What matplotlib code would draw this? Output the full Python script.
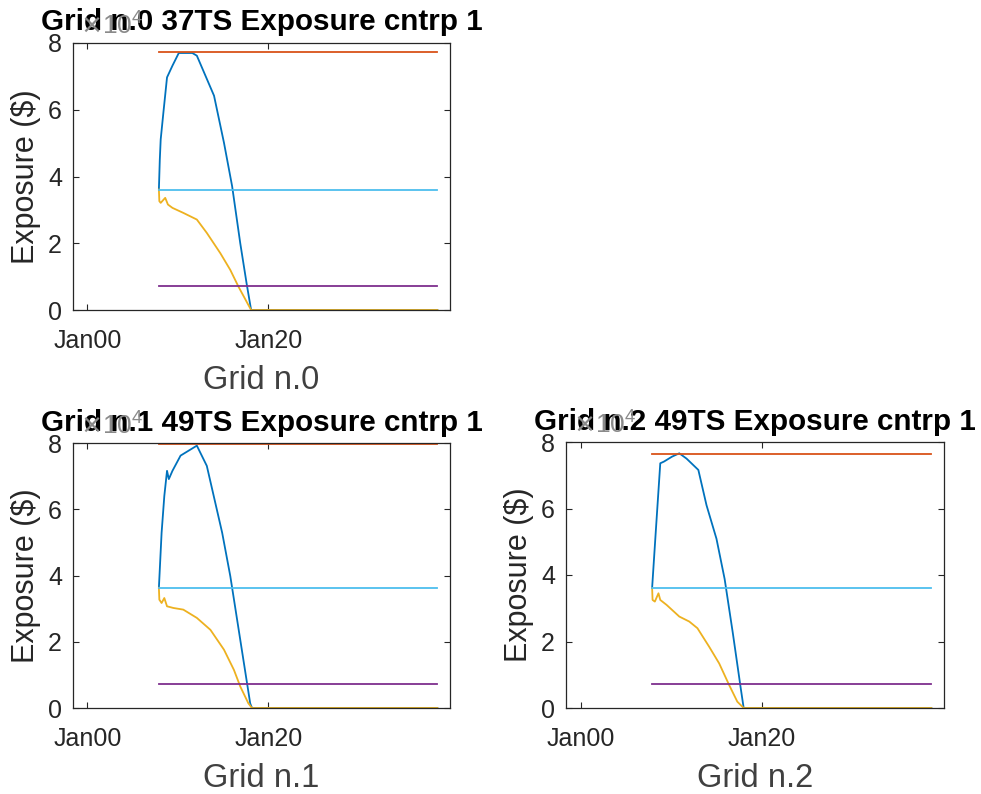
import matplotlib
matplotlib.use('Agg')
import matplotlib.pyplot as plt

plt.rcParams['font.family'] = ['Liberation Sans', 'DejaVu Sans']

# ---- data (x in decimal years, y in units of 1e4 $) ----
titles = ['Grid n.0 37TS Exposure cntrp 1',
          'Grid n.1 49TS Exposure cntrp 1',
          'Grid n.2 49TS Exposure cntrp 1']
xlabels = ['Grid n.0', 'Grid n.1', 'Grid n.2']
tick_years = [2000, 2020]
tick_labels = ['Jan00', 'Jan20']
x_start = 2007.9
x_end = 2038.7

# grid 0
g0_exp_x = [2007.9, 2008.0, 2008.1, 2008.4, 2008.8, 2009.4, 2010.1, 2011.6, 2012.1, 2014.0,
            2015.1, 2016.0, 2016.9, 2017.6, 2018.1, 2038.7]
g0_exp_y = [3.61, 4.50, 5.11, 5.92, 6.97, 7.32, 7.70, 7.70, 7.62, 6.42,
            5.01, 3.71, 2.00, 0.80, 0.0, 0.0]
g0_low_x = [2007.9, 2007.95, 2008.1, 2008.6, 2008.9, 2009.4, 2010.6, 2012.1, 2013.2,
            2014.7, 2015.8, 2016.7, 2017.5, 2018.1, 2038.7]
g0_low_y = [3.61, 3.26, 3.21, 3.36, 3.16, 3.06, 2.91, 2.71, 2.31,
            1.70, 1.20, 0.70, 0.30, 0.0, 0.0]
g0_max = 7.72
g0_mean = 3.61
g0_min = 0.72

# grid 1
g1_exp_x = [2007.9, 2008.2, 2008.5, 2008.8, 2009.0, 2009.4, 2010.3, 2011.2, 2012.1,
            2013.2, 2014.9, 2015.8, 2016.9, 2018.0, 2018.2, 2038.7]
g1_exp_y = [3.63, 5.29, 6.40, 7.16, 6.91, 7.16, 7.62, 7.77, 7.92,
            7.31, 5.29, 3.98, 2.06, 0.14, 0.0, 0.0]
g1_low_x = [2007.9, 2007.95, 2008.2, 2008.5, 2008.8, 2009.5, 2010.6, 2012.1, 2013.6,
            2015.1, 2016.2, 2016.9, 2017.8, 2018.2, 2038.7]
g1_low_y = [3.63, 3.27, 3.17, 3.32, 3.07, 3.02, 2.97, 2.72, 2.36,
            1.76, 1.15, 0.65, 0.14, 0.0, 0.0]
g1_max = 7.96
g1_mean = 3.63
g1_min = 0.72

# grid 2
g2_exp_x = [2007.9, 2008.3, 2008.8, 2009.2, 2010.1, 2010.9, 2011.7, 2013.0, 2013.9,
            2015.0, 2015.9, 2016.8, 2017.7, 2018.0, 2038.7]
g2_exp_y = [3.61, 5.29, 7.36, 7.41, 7.56, 7.66, 7.50, 7.16, 6.10,
            5.09, 3.88, 2.26, 0.55, 0.0, 0.0]
g2_low_x = [2007.9, 2007.95, 2008.2, 2008.6, 2008.8, 2009.5, 2010.9, 2012.0, 2012.9,
            2014.2, 2015.3, 2016.4, 2017.3, 2018.0, 2038.7]
g2_low_y = [3.61, 3.25, 3.20, 3.45, 3.25, 3.10, 2.75, 2.60, 2.40,
            1.84, 1.34, 0.69, 0.19, 0.0, 0.0]
g2_max = 7.65
g2_mean = 3.61
g2_min = 0.71

exp_x = [g0_exp_x, g1_exp_x, g2_exp_x]
exp_y = [g0_exp_y, g1_exp_y, g2_exp_y]
low_x = [g0_low_x, g1_low_x, g2_low_x]
low_y = [g0_low_y, g1_low_y, g2_low_y]
max_lvl = [g0_max, g1_max, g2_max]
mean_lvl = [g0_mean, g1_mean, g2_mean]
min_lvl = [g0_min, g1_min, g2_min]

# matlab default colours
c_blue = '#0072BD'
c_orange = '#D95319'
c_yellow = '#EDB120'
c_purple = '#7E2F8E'
c_cyan = '#4DBEEE'
c_axes = '#262626'

W, H = 981, 794
fig = plt.figure(figsize=(W / 100, H / 100), dpi=100)

# axes boxes in pixels: left, top, right, bottom
boxes = [(73, 43, 450, 310), (73, 443, 450, 708), (566, 442, 944, 708)]

for k in range(3):
    l, t, r, b = boxes[k]
    ax = fig.add_axes([l / W, 1 - b / H, (r - l) / W, (b - t) / H])

    ax.plot(exp_x[k], exp_y[k], color=c_blue, lw=1.3)
    ax.plot([x_start, x_end], [max_lvl[k], max_lvl[k]], color=c_orange, lw=1.3)
    ax.plot(low_x[k], low_y[k], color=c_yellow, lw=1.3)
    ax.plot([x_start, x_end], [min_lvl[k], min_lvl[k]], color=c_purple, lw=1.3)
    ax.plot([x_start, x_end], [mean_lvl[k], mean_lvl[k]], color=c_cyan, lw=1.3)

    ax.set_xlim(1998.4, 2040.1)
    ax.set_ylim(0, 8)
    ax.set_xticks(tick_years)
    ax.set_xticklabels(tick_labels)
    ax.set_yticks([0, 2, 4, 6, 8])

    ax.tick_params(direction='in', top=True, right=True, length=4, width=0.8,
                   colors=c_axes, labelsize=18)
    ax.tick_params(axis='x', pad=14)
    ax.tick_params(axis='y', pad=8)
    for sp in ax.spines.values():
        sp.set_color(c_axes)
        sp.set_linewidth(0.9)

    ax.set_xlabel(xlabels[k], fontsize=23.5, color='#404040', labelpad=8)
    ax.set_ylabel('Exposure ($)', fontsize=22, color=c_axes, labelpad=5)
    ax.set_title(titles[k], fontsize=21.3, fontweight='bold', color='black', pad=9)

    # exponent label like matlab, drawn over the title
    ax.text(0.018, 1.012, r'$\times\mathregular{10^{4}}$', transform=ax.transAxes,
            fontsize=19, color='#8a8a8a', ha='left', va='bottom', zorder=10)

fig.savefig('out.png', dpi=100)
